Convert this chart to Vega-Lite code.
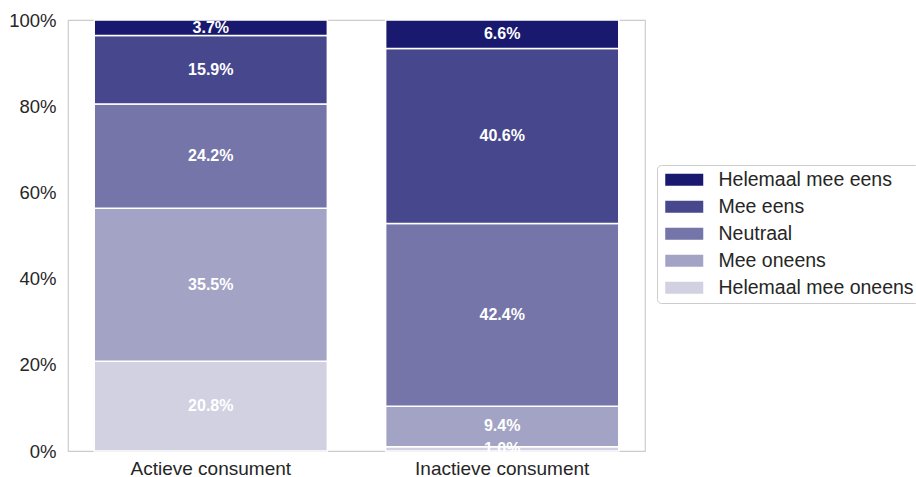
{
  "$schema": "https://vega.github.io/schema/vega-lite/v6.json",
  "autosize": "none",
  "width": 577,
  "height": 431,
  "padding": {"left": 68, "top": 20, "right": 271, "bottom": 26},
  "background": "white",
  "config": {
    "font": "Arial",
    "view": {"stroke": "#cccccc", "strokeWidth": 1.2},
    "axis": {"labelFont": "Arial", "labelFontSize": 18.5, "labelColor": "#262626", "ticks": false, "domain": false, "grid": false, "title": null}
  },
  "data": {
    "values": [
      {"group": "Actieve consument", "answer": "Helemaal mee oneens", "pct": 20.8},
      {"group": "Actieve consument", "answer": "Mee oneens", "pct": 35.5},
      {"group": "Actieve consument", "answer": "Neutraal", "pct": 24.2},
      {"group": "Actieve consument", "answer": "Mee eens", "pct": 15.9},
      {"group": "Actieve consument", "answer": "Helemaal mee eens", "pct": 3.7},
      {"group": "Inactieve consument", "answer": "Helemaal mee oneens", "pct": 1.0},
      {"group": "Inactieve consument", "answer": "Mee oneens", "pct": 9.4},
      {"group": "Inactieve consument", "answer": "Neutraal", "pct": 42.4},
      {"group": "Inactieve consument", "answer": "Mee eens", "pct": 40.6},
      {"group": "Inactieve consument", "answer": "Helemaal mee eens", "pct": 6.6}
    ]
  },
  "transform": [
    {"calculate": "indexof(['Helemaal mee oneens','Mee oneens','Neutraal','Mee eens','Helemaal mee eens'], datum.answer)", "as": "k"},
    {"stack": "pct", "groupby": ["group"], "sort": [{"field": "k", "order": "ascending"}], "as": ["y0", "y1"]},
    {"calculate": "(datum.y0 + datum.y1) / 2", "as": "ymid"},
    {"calculate": "format(datum.pct, '.1f') + '%'", "as": "label"}
  ],
  "encoding": {
    "x": {
      "field": "group", "type": "nominal",
      "scale": {"paddingInner": 0.2, "paddingOuter": 0.09},
      "axis": {"labelAngle": 0, "labelPadding": 8, "labelFontSize": 19}
    }
  },
  "layer": [
    {
      "mark": {"type": "bar", "stroke": "white", "strokeWidth": 1.5},
      "encoding": {
        "y": {"field": "y0", "type": "quantitative", "scale": {"domain": [0, 100], "clamp": true, "nice": false},
          "axis": {"values": [0, 20, 40, 60, 80, 100], "labelExpr": "datum.value + '%'", "labelPadding": 12}},
        "y2": {"field": "y1"},
        "color": {
          "field": "answer", "type": "nominal",
          "scale": {
            "domain": ["Helemaal mee eens", "Mee eens", "Neutraal", "Mee oneens", "Helemaal mee oneens"],
            "range": ["#191970", "#47478d", "#7575a9", "#a3a3c6", "#d1d1e2"]
          },
          "legend": {
            "title": null,
            "orient": "none",
            "legendX": 589,
            "legendY": 145,
            "fillColor": "white",
            "strokeColor": "#cccccc",
            "cornerRadius": 4,
            "padding": 5,
            "symbolOffset": 12.5,
            "symbolType": "M-2,-0.64H2V0.64H-2Z",
            "symbolSize": 361,
            "symbolStrokeWidth": 0,
            "symbolOpacity": 1,
            "labelFont": "Arial",
            "labelFontSize": 19.5,
            "labelColor": "#262626",
            "labelOffset": 24.5,
            "rowPadding": 6,
            "labelLimit": 300
          }
        }
      }
    },
    {
      "mark": {"type": "text", "color": "white", "fontWeight": "bold", "fontSize": 16, "font": "Arial", "baseline": "middle"},
      "encoding": {
        "y": {"field": "ymid", "type": "quantitative"},
        "text": {"field": "label", "type": "nominal"},
        "detail": {"field": "answer"}
      }
    }
  ]
}
